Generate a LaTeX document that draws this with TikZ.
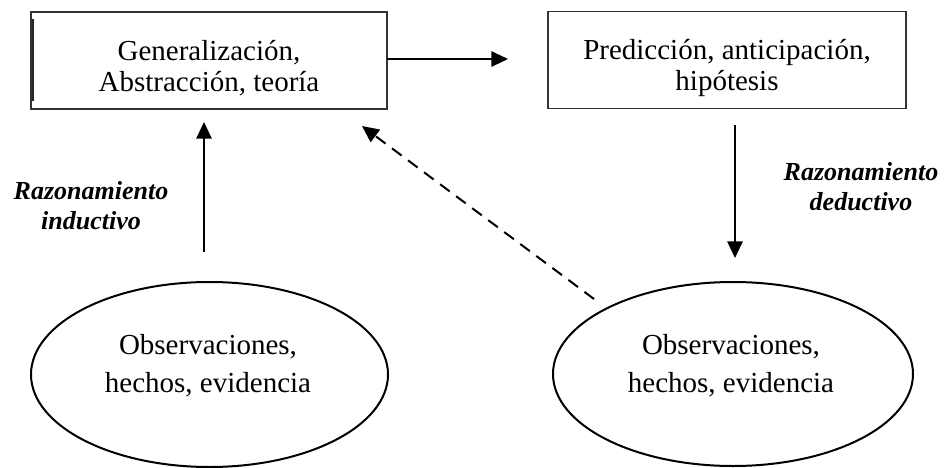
\documentclass[tikz,border=0pt]{standalone}
\usepackage{fontspec}
\setmainfont{Liberation Serif}
\usetikzlibrary{shapes.geometric,arrows.meta}
\begin{document}
\begin{tikzpicture}[x=0.75pt,y=-0.75pt,
  boxstyle/.style={draw=black!80,line width=0.8pt,minimum width=356*0.75pt,minimum height=97*0.75pt,inner sep=0pt},
  ovalstyle/.style={draw,ellipse,line width=1.5pt,inner sep=0pt},
  maintext/.style={font=\fontsize{21.75}{23}\selectfont,align=center},
  ovaltext/.style={font=\fontsize{21.75}{28.5}\selectfont,align=center},
  labtext/.style={font=\fontsize{19.5}{22.5}\selectfont\bfseries\itshape,align=center},
  arr/.style={line width=1.5pt,-{Triangle[length=12.5pt,width=11.5pt]}}]
\useasboundingbox (0,0) rectangle (947,468);
\node[boxstyle] (b1) at (209,60.5) {};
\draw[line width=1.4pt,black!85] ([xshift=2.5*0.75pt,yshift=-8*0.75pt]b1.north west) -- ([xshift=2.5*0.75pt,yshift=9*0.75pt]b1.south west);
\node[maintext] (t1) at (209,68) {Generalización,\\Abstracción, teoría};
\node[boxstyle,minimum width=358*0.75pt] (b2) at (727,60) {};
\node[maintext] (t2) at (727,68) {Predicción, anticipación,\\hipótesis};
\node[ovalstyle,minimum width=357*0.75pt,minimum height=185*0.75pt] (e1) at (209.5,374.5) {};
\node[ovaltext] (o1) at (208,366) {Observaciones,\\hechos, evidencia};
\node[ovalstyle,minimum width=360*0.75pt,minimum height=184*0.75pt] (e2) at (733,374) {};
\node[ovaltext] (o2) at (731,366) {Observaciones,\\hechos, evidencia};
\node[labtext] (l1) at (91,206) {Razonamiento\\inductivo};
\node[labtext] (l2) at (861,187) {Razonamiento\\deductivo};
\coordinate (h1) at (387,59);
\coordinate (h2) at (508,59);
\coordinate (u1) at (204,252);
\coordinate (u2) at (204,122);
\coordinate (d1) at (735,125);
\coordinate (d2) at (735,258);
\coordinate (s1) at (594,299);
\coordinate (s2) at (362,126);
\draw[arr] (h1) -- (h2);
\draw[arr] (u1) -- (u2);
\draw[arr] (d1) -- (d2);
\draw[arr,dash pattern=on 9pt off 6pt] (s1) -- (s2);
\end{tikzpicture}
\end{document}
